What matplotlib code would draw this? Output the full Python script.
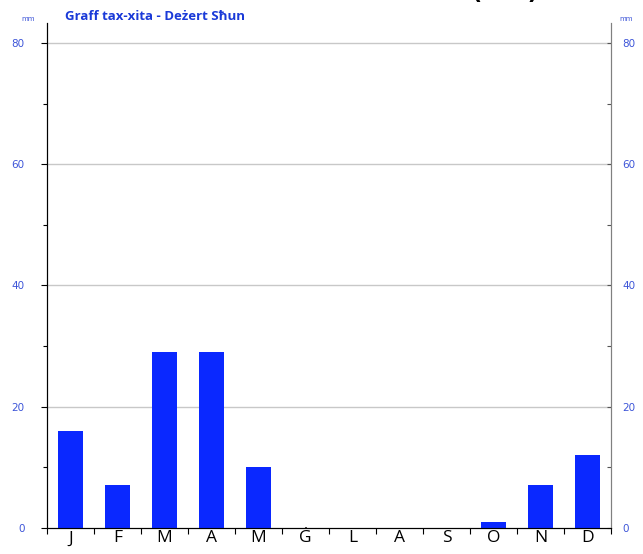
import numpy as np
import matplotlib.pyplot as plt
from matplotlib.ticker import MultipleLocator

months = ["J", "F", "M", "A", "M", "Ġ", "L", "A", "S", "O", "N", "D"]
rain_mm = [16, 7, 29, 29, 10, 0, 0, 0, 0, 1, 7, 12]
y_ticks = [0, 20, 40, 60, 80]

TITLE = "Graff tax-xita - Deżert Sħun"
BLUE = "#0a28ff"
LABEL_BLUE = "#3d55d8"
SANS = ["Open Sans", "DejaVu Sans"]

fig = plt.figure(figsize=(6.43, 5.54), dpi=100)
ax = fig.add_axes([47 / 643, 26.3 / 554, (611 - 47) / 643, (527.7 - 23) / 554])

x = np.arange(len(months)) + 0.5
ax.bar(x, rain_mm, width=0.52, color=BLUE, zorder=3)

ax.set_xlim(0, 12)
ax.set_ylim(0, 83.3)

# gridlines at the labelled values
for v in y_ticks[1:]:
    ax.axhline(v, color="#c8c8c8", lw=1, zorder=1)

ax.set_yticks(y_ticks)
ax.yaxis.set_minor_locator(MultipleLocator(10))
ax.tick_params(axis="y", which="both", direction="out", length=4, width=0.8,
               labelsize=7.5, labelcolor=LABEL_BLUE, pad=12)
ax.tick_params(axis="y", which="minor", length=3)

# right-hand scale
ax2 = ax.twinx()
ax2.set_ylim(ax.get_ylim())
ax2.set_yticks(y_ticks)
ax2.yaxis.set_minor_locator(MultipleLocator(10))
ax2.tick_params(axis="y", which="both", direction="in", length=3, width=0.8,
                labelsize=7.5, labelcolor=LABEL_BLUE, pad=8, color="#555555")

ax.set_xticks(np.arange(13))
ax.set_xticks(x, minor=True)
ax.set_xticklabels([""] * 13)
ax.set_xticklabels(months, minor=True, fontsize=12.5, color="black", family=SANS)
ax.tick_params(axis="x", which="major", direction="out", length=4, width=0.8)
ax.tick_params(axis="x", which="minor", length=0, pad=2)

for a in (ax, ax2):
    a.spines["top"].set_visible(False)
    a.spines["left"].set_color("black")
    a.spines["right"].set_color("#808080")
    a.spines["bottom"].set_color("black")

fig.text(28 / 643, 1 - 19 / 554, "mm", fontsize=5, color=LABEL_BLUE, ha="center", va="center")
fig.text(626 / 643, 1 - 19 / 554, "mm", fontsize=5, color=LABEL_BLUE, ha="center", va="center")
fig.text(65 / 643, 1 - 17 / 554, TITLE, fontsize=9.5, fontweight="bold",
         color="#1a3ad8", ha="left", va="center", family=SANS)
# heading cut off at the top edge, as in the source image
fig.text(505 / 643, 1 + 7 / 554, "(mm)", fontsize=16, fontweight="bold",
         color="black", ha="center", va="center")

fig.savefig("out.png", dpi=100)
